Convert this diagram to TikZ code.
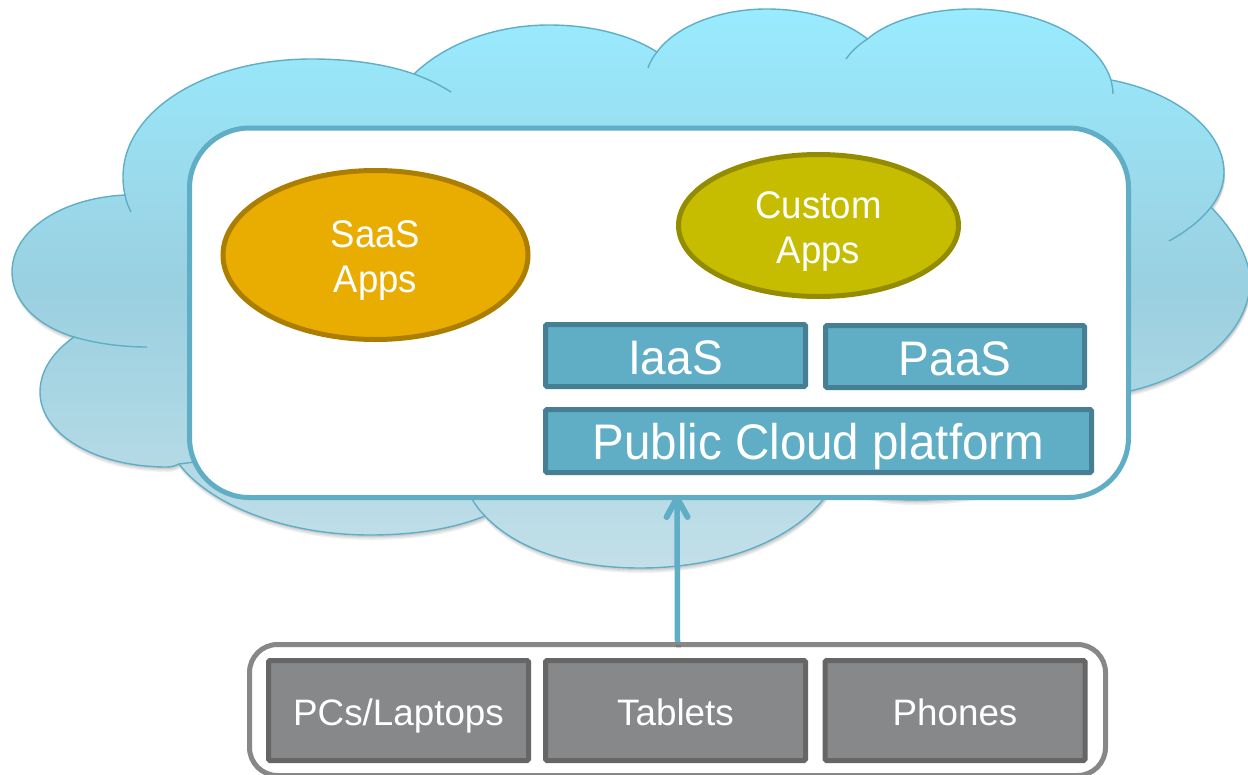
\documentclass[tikz,border=0pt]{standalone}
\usepackage{fontspec}
\setmainfont{Liberation Sans}
\newfontfamily\narrowsans[FakeStretch=0.95]{Liberation Sans}
\usetikzlibrary{shapes.geometric,arrows.meta}
\definecolor{cloudline}{HTML}{5FAEC6}
\definecolor{boxline}{HTML}{467F94}
\definecolor{greyfill}{HTML}{87888A}
\definecolor{greyline}{HTML}{666666}
\definecolor{greyframe}{HTML}{878787}
\definecolor{saasfill}{HTML}{E9AC00}
\definecolor{saasline}{HTML}{AC7E00}
\definecolor{customfill}{HTML}{C6BD00}
\definecolor{customline}{HTML}{938C00}
\definecolor{cloudtop}{HTML}{99EBFF}
\definecolor{cloudmid}{HTML}{9AD0E0}
\definecolor{cloudbot}{HTML}{C3DFE8}
\newcommand{\cloudoutline}{
  (125,195) .. controls (123.5,189) and (123,183) .. (123,177)
  .. controls (123,110) and (207,59) .. (312,59)
  .. controls (350,59) and (385,64) .. (414,74)
  .. controls (445,44) and (495,25) .. (549,25)
  .. controls (594,25) and (632,36) .. (657,52)
  .. controls (675,27) and (718,9) .. (767,9)
  .. controls (808,9) and (845,21) .. (867.5,39)
  .. controls (888,21) and (928,9) .. (972,9)
  .. controls (1040,9) and (1098,39) .. (1111,80)
  .. controls (1175,92) and (1224,130) .. (1224,172)
  .. controls (1224,185) and (1219,197) .. (1211,207)
  .. controls (1233,230) and (1250,257) .. (1250,281)
  .. controls (1250,330) and (1200,375) .. (1130,391)
  -- (1050,470)
  .. controls (1010,492) and (960,500) .. (915,500)
  .. controls (885,500) and (860,495) .. (833,485)
  .. controls (805,535) and (730,568) .. (640,568)
  .. controls (570,568) and (515,548) .. (485,516)
  .. controls (450,530) and (410,535) .. (370,535)
  .. controls (285,535) and (210,505) .. (179,464)
  .. controls (175,466) and (171,467) .. (167,467)
  .. controls (95,467) and (40,434) .. (40,392)
  .. controls (40,370) and (54,351) .. (74,337)
  .. controls (35,325) and (12,300) .. (12,272)
  .. controls (12,230) and (62,198) .. (125,195) -- cycle
}
\tikzset{
  cloudstroke/.style={draw=cloudline,line width=1.4pt},
  tealbox/.style={rectangle,draw=boxline,fill=cloudline,line width=5pt,rounded corners=1.5pt,
    inner sep=0pt,text=white,text height=38pt,text depth=0pt,
    font=\narrowsans\fontsize{48.5}{50}\selectfont},
  greybox/.style={rectangle,draw=greyline,fill=greyfill,line width=5pt,rounded corners=1.5pt,
    inner sep=0pt,text=white,text height=30pt,text depth=0pt,
    font=\fontsize{36.8}{40}\selectfont,minimum width=260pt,minimum height=100pt},
  appoval/.style={ellipse,line width=5pt,inner sep=0pt,text=white,align=center,
    font=\narrowsans\fontsize{38.5}{45.5}\selectfont},
}
\begin{document}
\begin{tikzpicture}[x=1pt,y=-1pt]
\useasboundingbox (0,0) rectangle (1248,774);
\begin{scope}
\clip (0,0) rectangle (1248,774);
% soft shadow
\foreach \d/\o in {2/.08,3.5/.07,5/.06}{
  \fill[black,opacity=\o,shift={(1,\d)}] \cloudoutline;
}
% cloud
\path[cloudstroke,top color=cloudtop,bottom color=cloudbot,middle color=cloudmid] \cloudoutline;
% lobe tails
\draw[cloudstroke] (414,74) .. controls (428,79) and (440,85) .. (451,92);
\draw[cloudstroke] (657,52) .. controls (653,57) and (650,62) .. (648,68);
\draw[cloudstroke] (867.5,39) .. controls (858,45) and (851,52) .. (846,59);
\draw[cloudstroke] (1111,80) .. controls (1112,85) and (1113,89) .. (1113,94);
\draw[cloudstroke] (1211,207) .. controls (1201,220) and (1187,231) .. (1169,241);
\draw[cloudstroke] (74,337) .. controls (95,343) and (120,347) .. (147,347);
\draw[cloudstroke] (179,464) -- (195,462);
\draw[cloudstroke] (485,516) .. controls (480,511) and (476,506) .. (472,499);
\draw[cloudstroke] (125,195) .. controls (126,201) and (128,206) .. (131,212);
% main frame
\node[rectangle,draw=cloudline,fill=white,line width=5pt,rounded corners=60pt,inner sep=0pt,
  minimum width=939pt,minimum height=369.5pt] (frame) at (659,312.75) {};
% apps
\node[appoval,draw=saasline,fill=saasfill,minimum width=305pt,minimum height=169pt] (saas) at (375.5,255) {\rule{0pt}{38pt}SaaS\\Apps};
\node[appoval,draw=customline,fill=customfill,minimum width=280pt,minimum height=142pt] (custom) at (818.5,225.5) {\rule{0pt}{39pt}Custom\\Apps};
% platform boxes
\node[tealbox,minimum width=260pt,minimum height=62pt] (iaas) at (675.5,355.5) {IaaS};
\node[tealbox,minimum width=259pt,minimum height=62pt] (paas) at (955,356.5) {PaaS};
\node[tealbox,minimum width=546pt,minimum height=63pt,text height=37pt,font=\narrowsans\fontsize{50}{52}\selectfont] (public) at (818.5,441) {Public Cloud platform};
% devices
\node[rectangle,draw=greyframe,fill=white,line width=5pt,rounded corners=28pt,inner sep=0pt,
  minimum width=856pt,minimum height=131pt] (devices) at (677.5,710) {};
\node[greybox] (pcs) at (398.5,710.5) {PCs/Laptops};
\node[greybox] (tablets) at (675.5,710.5) {Tablets};
\node[greybox] (phones) at (955,710.5) {Phones};
% arrow
\coordinate (arrowtip) at (677,495);
\draw[black,opacity=.12,line width=5pt] ([shift={(1,3)}]devices.north) -- ++(0,3);
\draw[draw=cloudline,line width=5.5pt,-{Straight Barb[length=19pt,width=21pt,line width=6pt,round]}] (devices.north) -- (arrowtip);
\end{scope}
\end{tikzpicture}
\end{document}
